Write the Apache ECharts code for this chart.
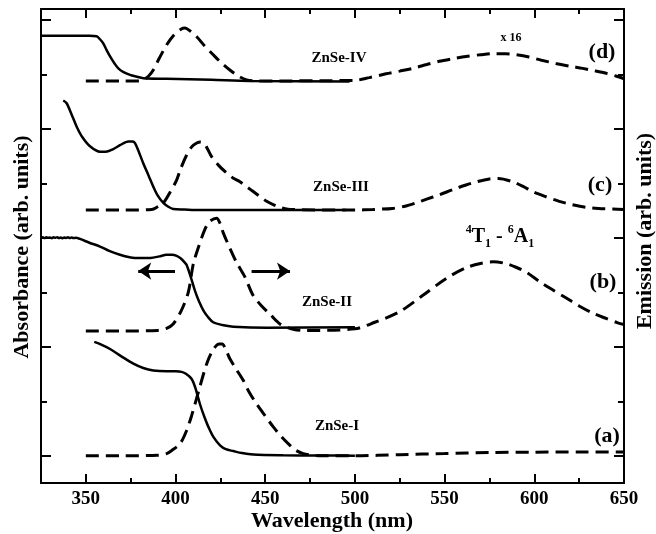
<!DOCTYPE html>
<html>
<head>
<meta charset="utf-8">
<title>ZnSe absorption / emission</title>
<script src="https://cdn.jsdelivr.net/npm/echarts@6.0.0/dist/echarts.min.js"></script>
<style>
    html, body { margin: 0; padding: 0; background: #fff; }
    #chart { width: 656px; height: 534px; }
</style>
</head>
<body>
<div id="chart"></div>
<script>
// 波长范围和刻度
const xMin = 325;
const xMax = 650;
const xMajorTicks = [350, 400, 450, 500, 550, 600, 650];
const xMinorTicks = [375, 425, 475, 525, 575, 625];
// 纵轴任意单位，每一格刻度为 1
const yMin = -0.5;
const yMax = 8.2;
const yMajorTicks = [0, 2, 4, 6, 8];
const yMinorTicks = [1, 3, 5, 7];

// (a) ZnSe-I
const absA = [
    [354.7, 2.09], [358, 2.05], [363.5, 1.96], [370, 1.82], [376.5, 1.69], [382, 1.61],
    [387.6, 1.565], [395, 1.55], [400, 1.55], [403.4, 1.54], [406, 1.5], [409, 1.41],
    [411, 1.25], [413.6, 0.95], [416, 0.72], [418.3, 0.53], [421, 0.35], [424.8, 0.19],
    [428, 0.12], [432.2, 0.086], [437, 0.05], [443.3, 0.024], [460, 0.01], [480, 0.005], [500, 0]
];
const emA = [
    [350, 0], [370, 0], [390, 0.01], [395, 0.04], [398, 0.1], [402.5, 0.22], [406, 0.45],
    [409, 0.74], [413, 1.2], [417.4, 1.69], [421, 1.95], [424.4, 2.05], [426, 2.05],
    [428, 1.95], [430.3, 1.78], [434, 1.58], [437.8, 1.38], [441, 1.17], [445.2, 0.95],
    [450, 0.73], [454.5, 0.53], [459, 0.35], [463.8, 0.19], [467, 0.1], [471.2, 0.04],
    [476, 0.01], [480, 0], [500, 0], [525, 0.02], [550, 0.04], [575, 0.06], [600, 0.065],
    [625, 0.07], [650, 0.07]
];

// (b) ZnSe-II，起始段有测量噪声
const absB = [
    [325, 4.0], [326, 4.01], [327, 3.995], [328, 4.012], [329, 4.0], [330, 4.008],
    [331, 3.994], [332, 4.01], [333, 4.0], [334, 4.012], [335, 3.996], [336, 4.006],
    [337, 3.992], [338, 4.004], [339, 3.998], [340, 4.01], [341, 3.996], [342, 4.004],
    [343, 3.998], [344.5, 4.0], [346.7, 3.98], [352, 3.91], [357.9, 3.84],
    [363, 3.76], [369, 3.69], [375, 3.64], [380.2, 3.63], [386, 3.63], [391, 3.66],
    [395, 3.69], [398, 3.69], [400.6, 3.67], [403, 3.62], [405.3, 3.54], [406.2, 3.5],
    [408.5, 3.28], [410.8, 3.03], [413, 2.84], [415.5, 2.67], [418, 2.55], [421, 2.45],
    [426, 2.4], [432.2, 2.37], [450.8, 2.35], [500, 2.36]
];
const emB = [
    [350, 2.29], [370, 2.29], [390, 2.3], [395, 2.34], [398.7, 2.42], [403, 2.65],
    [407.1, 3.0], [409.9, 3.52], [413, 3.85], [416.3, 4.15], [419, 4.3], [422.9, 4.36],
    [425, 4.25], [426.6, 4.09], [430.3, 3.81], [434, 3.55], [438.7, 3.28], [443.3, 2.94],
    [448, 2.75], [452.6, 2.6], [458.2, 2.42], [465.6, 2.32], [472, 2.3], [500, 2.33],
    [511.1, 2.45], [524.7, 2.64], [537.7, 2.94], [550.7, 3.25], [561.9, 3.45], [570, 3.53],
    [577, 3.56], [584, 3.53], [589.8, 3.46], [596, 3.36], [602.8, 3.2], [610, 3.05],
    [617.6, 2.9], [625, 2.75], [632.5, 2.62], [640, 2.52], [646.5, 2.44], [650, 2.41]
];

// (c) ZnSe-III
const absC = [
    [337.4, 6.52], [339.3, 6.47], [342, 6.27], [344.9, 6.04], [348, 5.85], [352.3, 5.68],
    [357.9, 5.58], [361, 5.58], [365.3, 5.63], [369, 5.7], [373.7, 5.77], [376, 5.77],
    [377.4, 5.74], [379.5, 5.58], [382, 5.37], [385, 5.14], [387.6, 4.94], [390, 4.78],
    [393.2, 4.64], [396, 4.57], [398.7, 4.53], [405, 4.52], [413.6, 4.51], [495, 4.51]
];
const emC = [
    [350, 4.51], [370, 4.51], [386.7, 4.52], [390, 4.57], [393.2, 4.64], [397, 4.84],
    [400.6, 5.06], [403, 5.28], [406.2, 5.52], [409, 5.67], [411.8, 5.74], [414, 5.76],
    [416.4, 5.71], [418, 5.62], [420.1, 5.49], [424, 5.33], [428.5, 5.19], [432, 5.1],
    [435.9, 5.03], [440, 4.93], [443.3, 4.85], [447, 4.76], [450.8, 4.67], [455, 4.6],
    [458.2, 4.56], [465, 4.52], [500, 4.51], [510, 4.52], [521, 4.54], [528, 4.58],
    [534, 4.64], [540, 4.71], [547, 4.79], [555, 4.89], [561.9, 4.97], [568, 5.03],
    [574.9, 5.08], [580, 5.09], [587.9, 5.03], [594, 4.94], [599, 4.85], [606, 4.76],
    [613.9, 4.67], [621, 4.61], [628.8, 4.56], [636, 4.54], [643.7, 4.53], [650, 4.52]
];

// (d) ZnSe-IV，发光谱放大 16 倍
const absD = [
    [325, 7.71], [340, 7.71], [352, 7.71], [356, 7.7], [358, 7.64], [359.7, 7.57],
    [361.5, 7.45], [363.5, 7.33], [366, 7.2], [368.1, 7.11], [371, 7.04], [374.6, 6.99],
    [378, 6.96], [382, 6.93], [395, 6.92], [420, 6.9], [441.5, 6.88], [497, 6.87]
];
const emD = [
    [350, 6.88], [370, 6.88], [380, 6.88], [382, 6.9], [385, 6.97], [387.6, 7.08],
    [391, 7.3], [395, 7.54], [399, 7.72], [403, 7.83], [405.3, 7.85], [408, 7.8],
    [411.8, 7.69], [416, 7.53], [421, 7.36], [425, 7.23], [430.3, 7.08], [435, 6.97],
    [439.6, 6.9], [445, 6.88], [500, 6.89], [508, 6.94], [517.3, 7.01], [525, 7.06],
    [532.2, 7.11], [540, 7.18], [547, 7.24], [555, 7.29], [561.9, 7.33], [570, 7.36],
    [577, 7.38], [584, 7.38], [590, 7.36], [597, 7.32], [604, 7.26], [612, 7.2],
    [620, 7.15], [627, 7.11], [633, 7.07], [640, 7.02], [645.5, 6.97], [650, 6.92]
];

// 左右箭头（数据坐标）
const arrows = [
    [[399.7, 3.39], [379.2, 3.39]],
    [[442.4, 3.39], [463.8, 3.39]]
];

const FONT = '"Liberation Serif", "Times New Roman", serif';

const absSeries = [absA, absB, absC, absD];
const emSeries = [emA, emB, emC, emD];

const makeXAxis = (position, ticks, len, showLine, showLabel) => ({
    type: "value",
    min: xMin,
    max: xMax,
    position,
    axisLine: { show: showLine, onZero: false, lineStyle: { color: "#000", width: 2 } },
    axisTick: {
        show: true,
        inside: true,
        length: len,
        customValues: ticks,
        lineStyle: { color: "#000", width: 2 }
    },
    axisLabel: {
        show: showLabel,
        customValues: ticks,
        margin: 7,
        color: "#000",
        fontFamily: FONT,
        fontWeight: "bold",
        fontSize: 19
    },
    splitLine: { show: false }
});

const makeYAxis = (position, ticks, len, showLine) => ({
    type: "value",
    min: yMin,
    max: yMax,
    position,
    axisLine: { show: showLine, onZero: false, lineStyle: { color: "#000", width: 2 } },
    axisTick: {
        show: true,
        inside: true,
        length: len,
        customValues: ticks,
        lineStyle: { color: "#000", width: 2 }
    },
    axisLabel: { show: false },
    splitLine: { show: false }
});

const series = [];
for (let i = 0; i < absSeries.length; i++) {
    series.push({
        type: "line",
        data: absSeries[i],
        showSymbol: false,
        smooth: 0.3,
        z: 3,
        lineStyle: { color: "#000", width: 2.5 }
    });
}
for (let i = 0; i < emSeries.length; i++) {
    series.push({
        type: "line",
        data: emSeries[i],
        showSymbol: false,
        smooth: 0.3,
        z: 2,
        lineStyle: { color: "#000", width: 3, type: [13, 7] }
    });
}
// 箭头挂在第一条序列上
series[0].markLine = {
    silent: true,
    symbol: ["none", "arrow"],
    symbolSize: 13,
    label: { show: false },
    lineStyle: { color: "#000", width: 3, type: "solid" },
    data: arrows.map(a => [{ coord: a[0] }, { coord: a[1] }])
};

const textStyle = (text, x, y, size) => ({
    type: "text",
    x,
    y,
    style: {
        text,
        fill: "#000",
        font: `bold ${size}px ${FONT}`,
        align: "center",
        verticalAlign: "middle"
    }
});

const graphic = [
    textStyle("ZnSe-IV", 339, 58, 15),
    textStyle("ZnSe-III", 341, 187, 15),
    textStyle("ZnSe-II", 327, 302, 15),
    textStyle("ZnSe-I", 337, 426, 15),
    textStyle("x 16", 511, 38, 12),
    textStyle("(d)", 602, 52, 22),
    textStyle("(c)", 600, 185, 22),
    textStyle("(b)", 603, 282, 22),
    textStyle("(a)", 607, 436, 22),
    {
        type: "text",
        x: 500,
        y: 237,
        style: {
            text: "{sup|4}{m|T}{sub|1}{m| - }{sup|6}{m|A}{sub|1}",
            align: "center",
            verticalAlign: "middle",
            fill: "#000",
            rich: {
                m: { font: `bold 20px ${FONT}`, fill: "#000", lineHeight: 26, verticalAlign: "middle" },
                sup: { font: `bold 12px ${FONT}`, fill: "#000", lineHeight: 26, verticalAlign: "top" },
                sub: { font: `bold 12px ${FONT}`, fill: "#000", lineHeight: 26, verticalAlign: "bottom" }
            }
        }
    },
    {
        type: "text",
        x: 22,
        y: 247,
        rotation: Math.PI / 2,
        style: {
            text: "Absorbance (arb. units)",
            fill: "#000",
            font: `bold 22px ${FONT}`,
            align: "center",
            verticalAlign: "middle"
        }
    },
    {
        type: "text",
        x: 645,
        y: 231,
        rotation: Math.PI / 2,
        style: {
            text: "Emission (arb. units)",
            fill: "#000",
            font: `bold 22px ${FONT}`,
            align: "center",
            verticalAlign: "middle"
        }
    },
    textStyle("Wavelength (nm)", 332, 521, 22)
];

const option = {
    animation: false,
    backgroundColor: "#fff",
    grid: { left: 41, right: 32, top: 9, bottom: 51, containLabel: false },
    xAxis: [
        makeXAxis("bottom", xMajorTicks, 9, true, true),
        makeXAxis("bottom", xMinorTicks, 5, false, false),
        makeXAxis("top", xMajorTicks, 9, true, false),
        makeXAxis("top", xMinorTicks, 5, false, false)
    ],
    yAxis: [
        makeYAxis("left", yMajorTicks, 10, true),
        makeYAxis("left", yMinorTicks, 6, false),
        makeYAxis("right", yMajorTicks, 10, true),
        makeYAxis("right", yMinorTicks, 6, false)
    ],
    series,
    graphic
};

const chart = echarts.init(document.getElementById("chart"));
chart.setOption(option);
console.log("绘图完成");
</script>
</body>
</html>
